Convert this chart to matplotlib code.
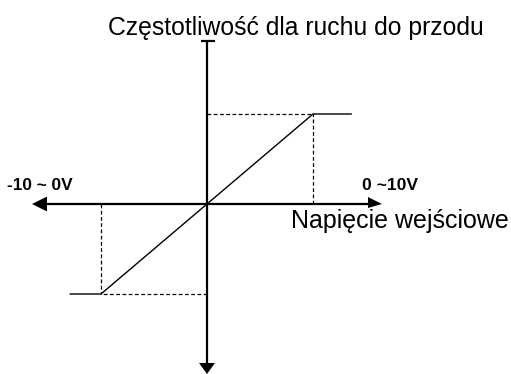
import matplotlib
matplotlib.use("Agg")
import matplotlib.pyplot as plt

# Data (voltage in V, normalized frequency)
voltage = [-12.9, -10, 10, 13.6]
frequency = [-1, -1, 1, 1]
v_sat = 10
f_sat = 1

title_text = "Częstotliwość dla ruchu do przodu"
xlabel_text = "Napięcie wejściowe"
neg_label = "-10 ~ 0V"
pos_label = "0 ~10V"

W, H = 511, 374
fig = plt.figure(figsize=(W / 100, H / 100), dpi=100)
ax = fig.add_axes([0, 0, 1, 1])

# pixel -> data mapping
px0, py0 = 207, 204
sx = 10.6   # px per volt
sy = 90.0   # px per unit freq
ax.set_xlim(-px0 / sx, (W - px0) / sx)
ax.set_ylim((py0 - H) / sy, py0 / sy)
ax.axis("off")

# axis extents
x_left, x_right = (32 - px0) / sx, (382 - px0) / sx
y_top, y_bot = (py0 - 41) / sy, (py0 - 374) / sy

# horizontal axis
ax.plot([x_left + 12 / sx, x_right - 12 / sx], [0, 0], color="black", lw=1.6, solid_capstyle="butt")
# left arrow head
ax.fill([x_left, x_left + 15 / sx, x_left + 15 / sx], [0, 7.5 / sy, -7.5 / sy], color="black", lw=0)
# right arrow head (smaller)
ax.fill([x_right, x_right - 14 / sx, x_right - 14 / sx], [0, 7 / sy, -4 / sy], color="black", lw=0)

# vertical axis
ax.plot([0, 0], [y_top, y_bot + 9 / sy], color="black", lw=1.6, solid_capstyle="butt")
ax.plot([-6 / sx, 8 / sx], [y_top, y_top], color="black", lw=1.6, solid_capstyle="butt")
ax.fill([0, -8 / sx, 8 / sx], [y_bot, y_bot + 11 / sy, y_bot + 11 / sy], color="black", lw=0)

# characteristic
ax.plot(voltage, frequency, color="black", lw=1.0)

# dashed guides
dash = dict(color="black", lw=0.9, ls=(0, (3, 2)))
ax.plot([0, v_sat], [f_sat, f_sat], **dash)
ax.plot([v_sat, v_sat], [0, f_sat], **dash)
ax.plot([0, -v_sat], [-f_sat, -f_sat], **dash)
ax.plot([-v_sat, -v_sat], [0, -f_sat], **dash)

# texts
ax.text((296 - px0) / sx, (py0 - 28) / sy, title_text, ha="center", va="center",
        fontsize=17.8, family="Liberation Sans")
ax.text((400 - px0) / sx, (py0 - 221) / sy, xlabel_text, ha="center", va="center",
        fontsize=18, family="Liberation Sans")
ax.text((40 - px0) / sx, (py0 - 186) / sy, neg_label, ha="center", va="center",
        fontsize=12.4, family="Liberation Sans", fontweight="bold")
ax.text((390 - px0) / sx, (py0 - 186) / sy, pos_label, ha="center", va="center",
        fontsize=12.6, family="Liberation Sans", fontweight="bold")

fig.savefig("out.png", dpi=100)
